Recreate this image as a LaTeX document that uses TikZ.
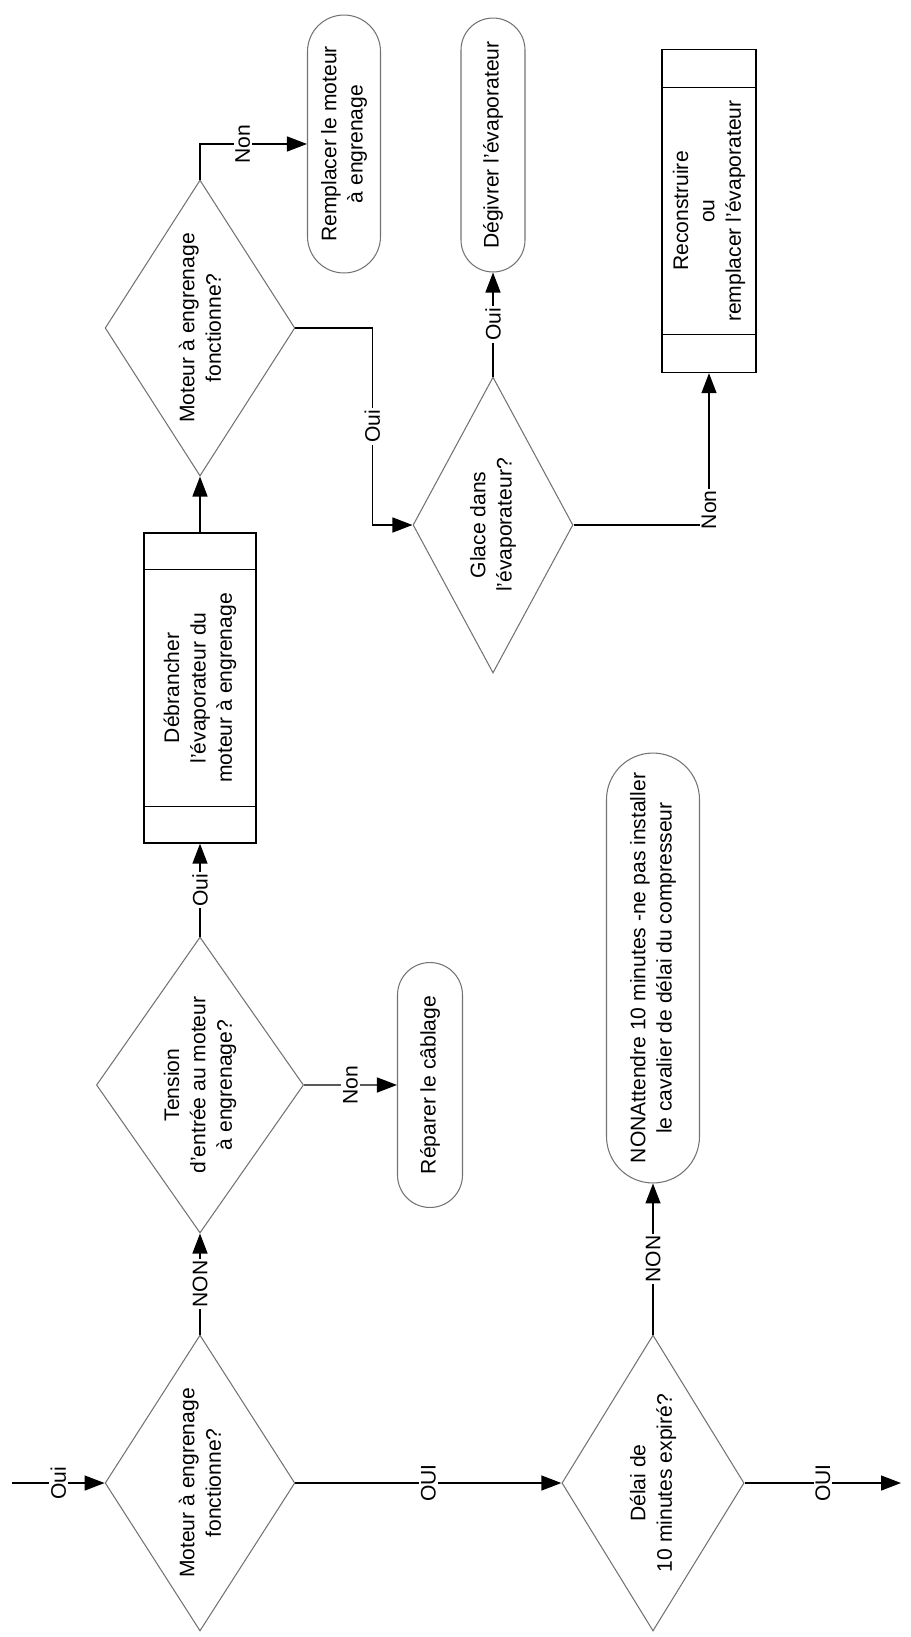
\documentclass[tikz,border=0pt]{standalone}
\usepackage{fontspec}
\setmainfont{Liberation Sans}
\usetikzlibrary{shapes.geometric,shapes.misc,arrows.meta,calc}
\tikzset{
  every node/.style={font=\fontsize{12}{15}\selectfont},
  decision/.style={draw=gray!90!black, line width=0.6pt, diamond, rotate=90, align=center,
    minimum width=5.92cm, minimum height=3.2cm, inner sep=-6pt},
  process/.style={draw, line width=0.8pt, rectangle, rotate=90, align=center, inner sep=1pt},
  terminal/.style={draw=gray!90!black, line width=0.6pt, rounded rectangle, rotate=90, align=center, inner sep=0pt},
  flow/.style={draw, line width=0.8pt, -{Triangle[length=0.4cm,width=0.3cm]}},
  lbl/.style={fill=white, rotate=90, inner sep=1pt}
}
\begin{document}
\begin{tikzpicture}[x=0.02cm, y=-0.02cm]
    \useasboundingbox (0,0) rectangle (910,1637);

    % questions
    \node[decision] (d1) at (200,1483) {Moteur à engrenage\\fonctionne?};
    \node[decision] (d2) at (653,1483) {Délai de\\10 minutes expiré?};
    \node[decision] (d3) at (200,1085) {Tension\\d'entrée au moteur\\à engrenage?};
    \node[decision] (d4) at (200,328) {Moteur à engrenage\\fonctionne?};
    \node[decision] (d5) at (493,525) {Glace dans\\l'évaporateur?};

    % actions
    \node[process, minimum width=6.2cm, minimum height=2.24cm] (b1) at (200,688) {Débrancher\\l'évaporateur du\\moteur à engrenage};
    \node[process, minimum width=6.46cm, minimum height=1.88cm] (b2) at (709,211) {Reconstruire\\ou\\remplacer l'évaporateur};
    \foreach \b in {b1,b2} {
      \foreach \k in {0.12,0.88} {
        \draw[line width=0.8pt] ($(\b.north east)!\k!(\b.north west)$) -- ($(\b.south east)!\k!(\b.south west)$);
      }
    }

    % ends
    \node[terminal, minimum width=5.16cm, minimum height=1.46cm] (t1) at (344,144) {Remplacer le moteur\\à engrenage};
    \node[terminal, minimum width=5.08cm, minimum height=1.28cm] (t2) at (493,145) {Dégivrer l'évaporateur};
    \node[terminal, minimum width=4.9cm, minimum height=1.3cm] (t3) at (430,1085) {Réparer le câblage};
    \node[terminal, minimum width=8.6cm, minimum height=1.86cm] (t4) at (653,968) {NONAttendre 10 minutes -ne pas installer\\le cavalier de délai du compresseur};

    \coordinate (in) at (12,1483);
    \coordinate (out) at (901,1483);
    \coordinate (j1) at ($(d4.south)+(77,0)$);

    \draw[flow] (in) -- node[lbl] {Oui} (d1);
    \draw[flow] (d1) -- node[lbl] {OUI} (d2);
    \draw[flow] (d2) -- node[lbl] {OUI} (out);
    \draw[flow] (d1) -- node[lbl] {NON} (d3);
    \draw[flow] (d2) -- node[lbl] {NON} (t4);
    \draw[flow] (d3) -- node[lbl] {Non} (t3);
    \draw[flow] (d3) -- node[lbl] {Oui} (b1);
    \draw[flow] (b1) -- (d4);
    \draw[flow] (d4.east) |- node[lbl, pos=0.7] {Non} (t1);
    \draw[flow] (d4.south) -- (j1) |- node[lbl, pos=0.25] {Oui} (d5.north);
    \draw[flow] (d5) -- node[lbl] {Oui} (t2);
    \draw[flow] (d5.south) -| node[lbl, pos=0.55] {Non} (b2);
\end{tikzpicture}
\end{document}
